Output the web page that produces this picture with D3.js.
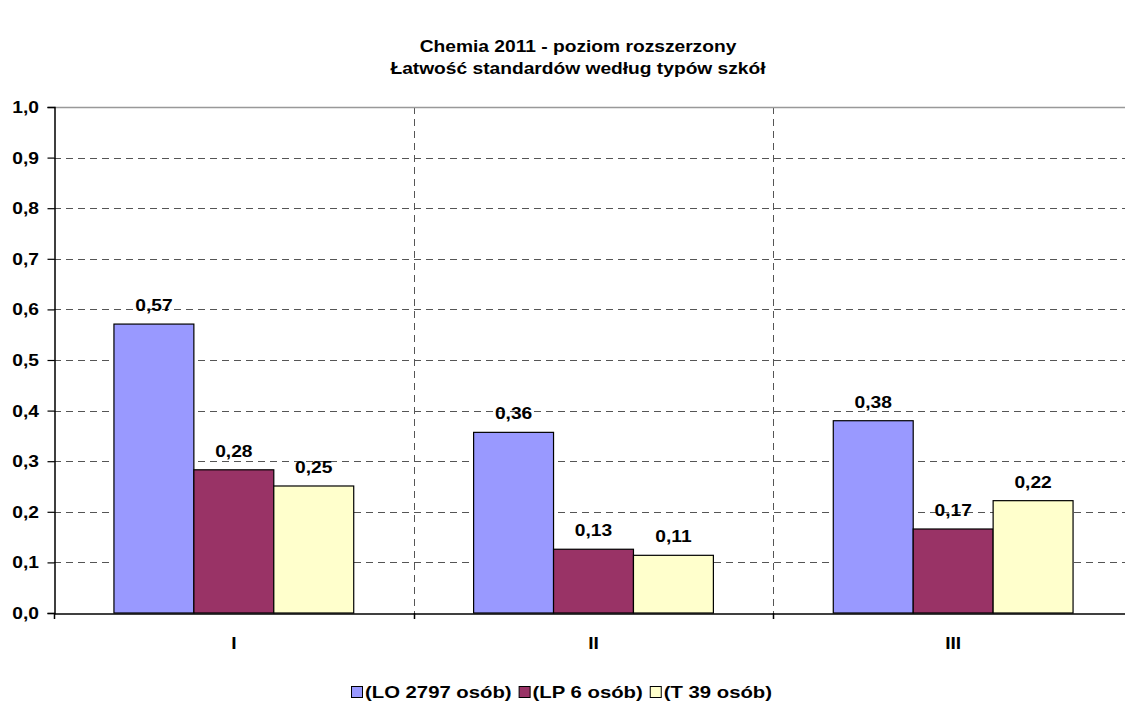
<!DOCTYPE html>
<html>
<head>
<meta charset="utf-8">
<script src="https://cdn.jsdelivr.net/npm/d3@7"></script>
<style>
  html, body { margin: 0; padding: 0; background: #fff; }
  svg { display: block; font-family: "Liberation Sans", Arial, sans-serif; }
</style>
</head>
<body>
<svg id="chart" width="1125" height="702"></svg>
<script>
// Chart data
const titleLines = ["Chemia 2011 - poziom rozszerzony", "Łatwość standardów według typów szkół"];
const categories = ["I", "II", "III"];
const seriesNames = ["(LO 2797 osób)", "(LP 6 osób)", "(T 39 osób)"];
const seriesColors = ["#9999ff", "#993366", "#ffffcc"];
const valuesLO = [0.571, 0.357, 0.380];
const valuesLP = [0.283, 0.126, 0.166];
const valuesT  = [0.251, 0.114, 0.222];
const yTicks = [0, 0.1, 0.2, 0.3, 0.4, 0.5, 0.6, 0.7, 0.8, 0.9, 1.0];

const seriesValues = [valuesLO, valuesLP, valuesT];
const rows = categories.map((c, i) => ({
  cat: c,
  vals: seriesValues.map((s, k) => ({ key: seriesNames[k], k, v: s[i] }))
}));

const svg = d3.select("#chart");
const plot = { left: 54, top: 107, right: 1133, bottom: 613 };
const FS = 16;        // font size
const SX = 1.2;       // horizontal text stretch

const x = d3.scaleBand().domain(categories).range([plot.left, plot.right]).paddingInner(0).paddingOuter(0);
const x1 = d3.scaleBand().domain(seriesNames).range([0, x.bandwidth()]).paddingOuter(0.75).paddingInner(0);
const y = d3.scaleLinear().domain([0, 1]).range([plot.bottom, plot.top]);
const fmt = v => v.toFixed(1).replace(".", ",");
const fmt2 = v => v.toFixed(2).replace(".", ",");

// Draws a bold, horizontally stretched label anchored at (px, py)
function label(parent, px, py, str, anchor, fs, sx) {
  return parent.append("g")
    .attr("transform", `translate(${px},${py}) scale(${sx || SX},1)`)
    .append("text")
    .attr("text-anchor", anchor || "middle")
    .attr("font-size", fs || FS).attr("font-weight", "bold").attr("fill", "#000")
    .text(str);
}

// Title
const gTitle = svg.append("g");
titleLines.forEach((t, i) => label(gTitle, 578, 52 + i * 22, t));

// Horizontal gridlines
svg.append("g").selectAll("line").data(yTicks.filter(t => t > 0 && t < 1)).join("line")
  .attr("x1", plot.left).attr("x2", plot.right)
  .attr("y1", d => Math.round(y(d)) + 0.5).attr("y2", d => Math.round(y(d)) + 0.5)
  .attr("stroke", "#555").attr("stroke-width", 1).attr("stroke-dasharray", "7,5");

// Vertical separators between categories
svg.append("g").selectAll("line").data(categories.slice(1)).join("line")
  .attr("x1", d => Math.round(x(d)) + 0.5).attr("x2", d => Math.round(x(d)) + 0.5)
  .attr("y1", plot.top).attr("y2", plot.bottom)
  .attr("stroke", "#555").attr("stroke-width", 1).attr("stroke-dasharray", "7,5");

// Top border of plot area
svg.append("line")
  .attr("x1", plot.left).attr("x2", plot.right)
  .attr("y1", plot.top + 0.5).attr("y2", plot.top + 0.5)
  .attr("stroke", "#999").attr("stroke-width", 1.5);

// Bars
const groups = svg.append("g").selectAll("g").data(rows).join("g")
  .attr("transform", d => `translate(${x(d.cat)},0)`);

groups.selectAll("rect").data(d => d.vals).join("rect")
  .attr("x", d => x1(d.key))
  .attr("y", d => y(d.v))
  .attr("width", x1.bandwidth())
  .attr("height", d => y(0) - y(d.v))
  .attr("fill", d => seriesColors[d.k])
  .attr("stroke", "#000").attr("stroke-width", 1.2);

// Value labels
groups.each(function (row) {
  const g = d3.select(this);
  row.vals.forEach(d => label(g, x1(d.key) + x1.bandwidth() / 2, y(d.v) - 13, fmt2(d.v)));
});

// Y axis
const yAxis = d3.axisLeft(y).tickValues(yTicks).tickFormat("").tickSize(7);
const gy = svg.append("g").attr("transform", `translate(${plot.left + 0.5},0)`).call(yAxis);
gy.select(".domain").attr("stroke", "#000").attr("stroke-width", 1.5);
gy.selectAll(".tick line").attr("stroke", "#000").attr("stroke-width", 1.2);
const gyLabels = svg.append("g");
yTicks.forEach(t => label(gyLabels, 39, y(t) + 6, fmt(t), "end"));

// X axis with ticks at category boundaries
const xAxis = d3.axisBottom(x).tickSize(0).tickFormat("");
const gx = svg.append("g").attr("transform", `translate(0,${plot.bottom + 0.5})`).call(xAxis);
gx.select(".domain").attr("stroke", "#000").attr("stroke-width", 1.5);
const gxLabels = svg.append("g");
categories.forEach(c => label(gxLabels, x(c) + x.bandwidth() / 2, 649, c));
svg.append("g").selectAll("line").data(categories.concat(["end"])).join("line")
  .attr("x1", (d, i) => Math.round(i < categories.length ? x(d) : plot.right) + 0.5)
  .attr("x2", (d, i) => Math.round(i < categories.length ? x(d) : plot.right) + 0.5)
  .attr("y1", plot.bottom).attr("y2", plot.bottom + 6)
  .attr("stroke", "#000").attr("stroke-width", 1.5);

// Legend
const legend = svg.append("g");
const LSX = 1.27;
let lx = 351;
seriesNames.forEach((name, k) => {
  legend.append("rect")
    .attr("x", lx + 0.5).attr("y", 686.5).attr("width", 11).attr("height", 11)
    .attr("fill", seriesColors[k]).attr("stroke", "#000").attr("stroke-width", 1);
  const t = label(legend, lx + 14, 698, name, "start", 16, LSX);
  lx += 14 + t.node().getComputedTextLength() * LSX + 7;
});
</script>
</body>
</html>
